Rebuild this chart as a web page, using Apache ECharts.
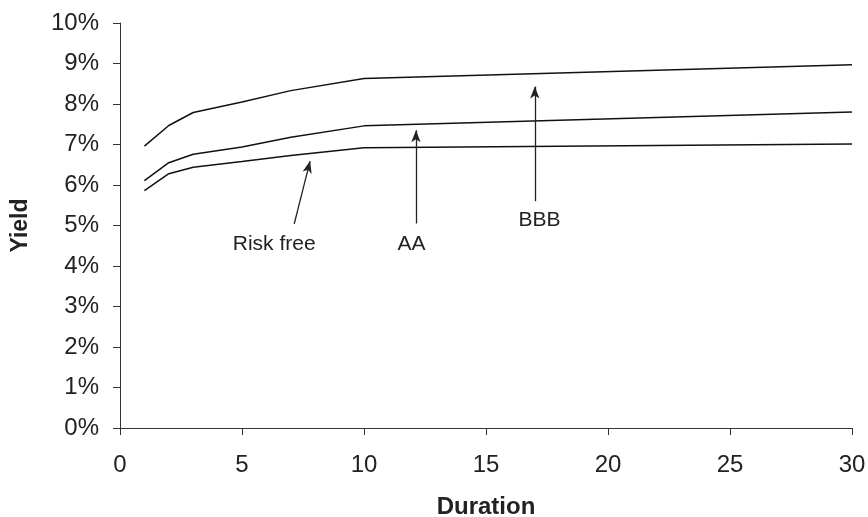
<!DOCTYPE html>
<html><head><meta charset="utf-8">
<script src="https://cdn.jsdelivr.net/npm/echarts@6/dist/echarts.min.js"></script>
<style>html,body{margin:0;padding:0;background:#fff}#c{width:868px;height:517px}</style>
</head><body><div id="c"></div>
<script>
const durations = [1, 2, 3, 5, 7, 10, 30];
const riskFree = [5.86, 6.28, 6.44, 6.58, 6.73, 6.92, 7.01];
const aa       = [6.11, 6.55, 6.76, 6.94, 7.18, 7.46, 7.80];
const bbb      = [6.96, 7.47, 7.79, 8.05, 8.33, 8.63, 8.97];
const seriesNames = ['Risk free', 'AA', 'BBB'];
// annotation arrows: [tailX, tailY, headX, headY] in data units
const arrows = [[7.14, 5.04, 7.79, 6.59], [12.13, 5.05, 12.13, 7.35], [17.0, 5.6, 17.0, 8.43]];
const labelPos = [[6.32, 4.54], [11.95, 4.54], [17.19, 5.12]];

const font = 'Liberation Sans, Arial, Helvetica, sans-serif';
const chart = echarts.init(document.getElementById('c'));
const dataSets = [riskFree, aa, bbb];
const series = dataSets.map((vals, i) => ({
  name: seriesNames[i],
  type: 'line',
  data: durations.map((d, j) => [d, vals[j]]),
  showSymbol: false,
  symbol: 'none',
  lineStyle: { color: '#111', width: 1.5 },
  silent: true,
  markLine: {
    silent: true,
    symbol: ['none', 'arrow'],
    symbolSize: [7, 12],
    label: { show: false },
    lineStyle: { color: '#222', width: 1.3, type: 'solid' },
    data: [[{ coord: [arrows[i][0], arrows[i][1]] }, { coord: [arrows[i][2], arrows[i][3]] }]]
  },
  markPoint: {
    silent: true,
    symbol: 'circle',
    symbolSize: 0,
    data: [{ coord: labelPos[i], value: seriesNames[i] }],
    label: { show: true, position: 'inside', formatter: seriesNames[i], color: '#222', fontSize: 21, fontFamily: font }
  }
}));

chart.setOption({
  animation: false,
  grid: { left: 120, right: 16, top: 23, bottom: 89, containLabel: false, outerBoundsMode: 'none' },
  xAxis: {
    type: 'value', min: 0, max: 30, interval: 5,
    name: 'Duration', nameLocation: 'middle', nameGap: 67,
    nameTextStyle: { fontFamily: font, fontSize: 24, fontWeight: 'bold', color: '#222' },
    axisLine: { lineStyle: { color: '#333', width: 1 } },
    axisTick: { show: true, length: 7, lineStyle: { color: '#333' } },
    axisLabel: { fontFamily: font, fontSize: 24, color: '#222', margin: 25 },
    splitLine: { show: false }
  },
  yAxis: {
    type: 'value', min: 0, max: 10, interval: 1,
    name: 'Yield', nameLocation: 'middle', nameGap: 88, nameRotate: 90,
    nameTextStyle: { fontFamily: font, fontSize: 23, fontWeight: 'bold', color: '#222' },
    axisLine: { show: true, lineStyle: { color: '#333', width: 1 } },
    axisTick: { show: true, length: 7, lineStyle: { color: '#333' } },
    axisLabel: { fontFamily: font, fontSize: 24, color: '#222', margin: 21, formatter: v => v + '%' },
    splitLine: { show: false }
  },
  series
});
</script></body></html>
